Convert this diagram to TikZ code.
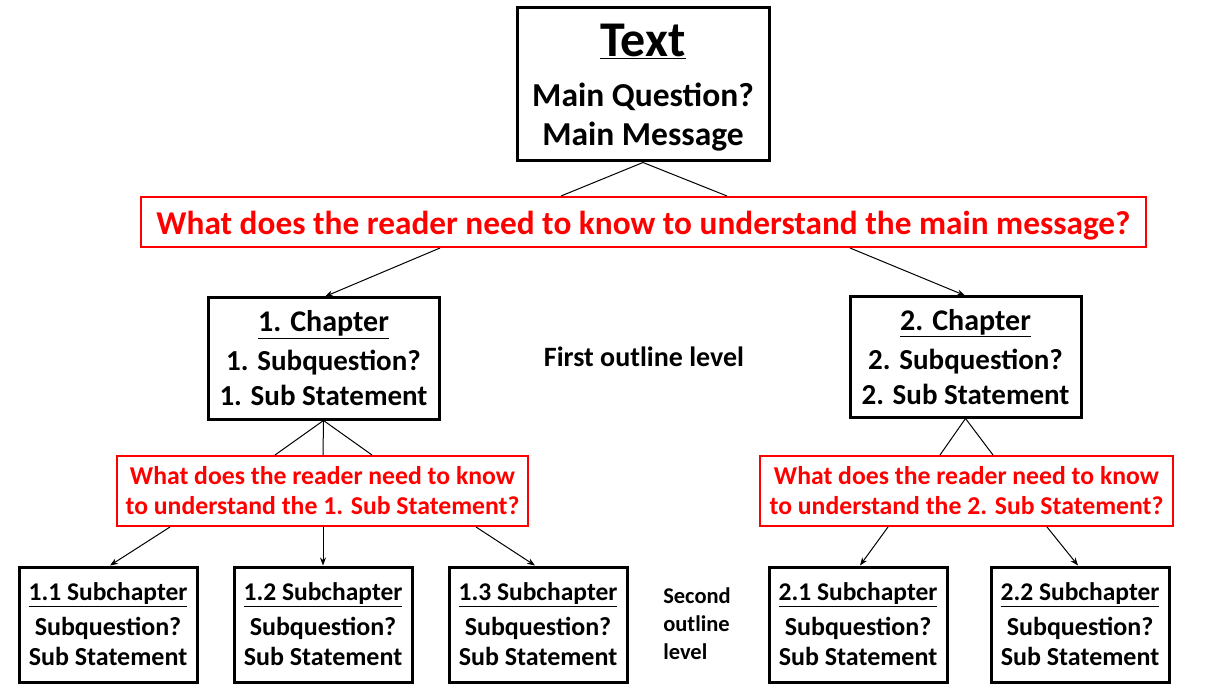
\documentclass[tikz,border=0pt]{standalone}
\usepackage{fontspec}
\setmainfont{Carlito}
\usetikzlibrary{arrows.meta}
\newcommand{\fs}[2]{\fontsize{#1}{#2}\selectfont}
\begin{document}
\begin{tikzpicture}[x=1pt,y=-1pt,
  bbox/.style={draw=black,line width=3pt,align=center,inner sep=0pt},
  rbox/.style={draw=red,line width=2pt,text=red,align=center,inner sep=0pt},
  lbl/.style={align=left,inner sep=0pt},
  conn/.style={line width=1pt},
  arr/.style={line width=1pt,-{Stealth[length=8pt,width=6pt]}}]
\useasboundingbox[fill=white] (0,0) rectangle (1230,692);

\node[bbox,minimum width=252pt,minimum height=153pt,font=\bfseries\fs{33.5}{39}] (top) at (643,84.5)
  {{\fs{50}{50}\rule{0pt}{39pt}\underline{Text}}\\[11pt]Main Question?\\Main Message};

\node[rbox,minimum width=1005pt,minimum height=50pt,font=\bfseries\fs{33.3}{36}] (banner) at (643.5,222)
  {\rule{0pt}{30pt}What does the reader need to know to understand the main message?};

\node[bbox,minimum width=231pt,minimum height=121pt,font=\bfseries\fs{29}{35}] (ch1) at (323.5,358.5)
  {{\fs{30}{36}\underline{1. Chapter}}\\[4pt]1. Subquestion?\\1. Sub Statement};
\node[bbox,minimum width=231pt,minimum height=120pt,font=\bfseries\fs{29}{35}] (ch2) at (965.5,357)
  {{\fs{30}{36}\underline{2. Chapter}}\\[4pt]2. Subquestion?\\2. Sub Statement};

\node[lbl,font=\bfseries\fs{28}{30}] (first) at (644,357) {First outline level};

\node[rbox,minimum width=411pt,minimum height=70pt,font=\bfseries\fs{25.7}{30}] (sub1) at (322.5,491)
  {What does the reader need to know\\to understand the 1. Sub Statement?};
\node[rbox,minimum width=413pt,minimum height=70pt,font=\bfseries\fs{25.7}{30}] (sub2) at (966.5,491)
  {What does the reader need to know\\to understand the 2. Sub Statement?};

\foreach \n/\x/\t in {b11/108/1.1, b12/323/1.2, b13/538/1.3, b21/858/2.1, b22/1080/2.2}{
  \node[bbox,minimum width=178pt,minimum height=115pt,font=\bfseries\fs{26}{30}] (\n) at (\x,624.5)
    {{\fs{25.5}{30}\underline{\t\ Subchapter}}\\[5pt]Subquestion?\\Sub Statement};
}

\node[lbl,font=\bfseries\fs{22.5}{28}] (second) at (697,624) {Second\\outline\\level};

% connectors
\draw[conn] (top.south) -- (banner.north -| 561,0);
\draw[conn] (top.south) -- (banner.north -| 727,0);
\draw[arr] (banner.south -| 440,0) -- (ch1.north -| 325,0);
\draw[arr] (banner.south -| 850,0) -- (ch2.north -| 965,0);

\draw[conn] (ch1.south) -- (sub1.north -| 275,0);
\draw[conn] (ch1.south) -- (sub1.north -| 323,0);
\draw[conn] (ch1.south) -- (sub1.north -| 372,0);
\draw[conn] (ch2.south) -- (sub2.north -| 940,0);
\draw[conn] (ch2.south) -- (sub2.north -| 993,0);

\draw[arr] (sub1.south -| 170,0) -- (b11.north -| 110,0);
\draw[arr] (sub1.south -| 323,0) -- (b12.north);
\draw[arr] (sub1.south -| 476,0) -- (b13.north -| 535,0);
\draw[arr] (sub2.south -| 888,0) -- (b21.north -| 860,0);
\draw[arr] (sub2.south -| 1047,0) -- (b22.north -| 1078,0);
\end{tikzpicture}
\end{document}
